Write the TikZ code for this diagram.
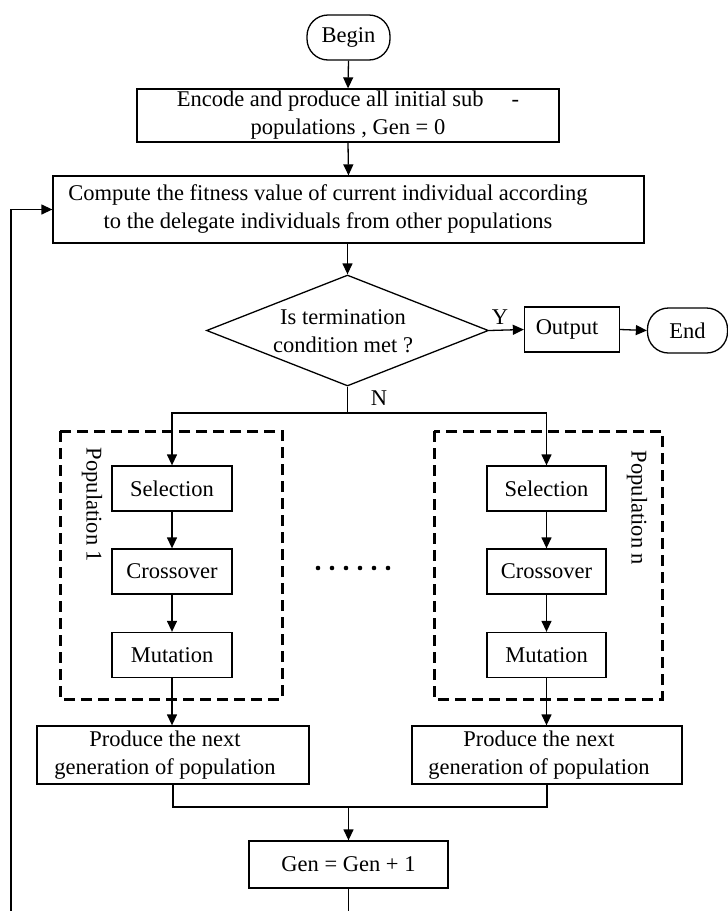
\documentclass[tikz,border=0pt]{standalone}
\usepackage{fontspec}
\setmainfont{Liberation Serif}
\usetikzlibrary{arrows.meta,shapes.geometric}
\begin{document}
\begin{tikzpicture}[x=1pt,y=-1pt,
  font=\fontsize{22.5}{28}\selectfont,
  line width=1.3pt,
  box/.style={draw, rectangle, inner sep=0pt, align=center},
  term/.style={draw, rectangle, rounded corners=21pt, inner sep=0pt, align=center},
  decision/.style={draw, diamond, inner sep=0pt},
  txt/.style={inner sep=0pt, align=center},
  dashbox/.style={draw, line width=3pt, dash pattern=on 11pt off 6pt},
  arr/.style={-{Triangle[length=11pt,width=10pt]}}]
\useasboundingbox (0,0) rectangle (728,911);
% nodes
\node[term, minimum width=83pt, minimum height=45pt] (begin) at (348.5,37.5) {Begin};
\node[box, minimum width=422pt, minimum height=53pt] (enc) at (348,115.5) {Encode and produce all initial sub\hspace{28pt}-\\populations , Gen = 0};
\node[box, minimum width=591pt, minimum height=67pt] (comp) at (348.5,209.5) {};
\node[txt] (comptext) at (328,209.5) {Compute the fitness value of current individual according\\to the delegate individuals from other populations};
\node[decision, minimum width=282pt, minimum height=111pt] (dec) at (347.5,330.5) {};
\node[txt] (dectext) at (343,331) {Is termination\\condition met ?};
\node[box, minimum width=95pt, minimum height=45pt] (out) at (572,329.5) {};
\node[txt] (outtext) at (567,329.5) {Output};
\node[term, minimum width=80pt, minimum height=45pt] (end) at (687.5,330.5) {End};
\node[txt] (ylab) at (500,317) {Y};
\node[txt] (nlab) at (379,398) {N};
% dashed population boxes
\draw[dashbox] (60,431) rectangle (282,699);
\draw[dashbox] (434,431) rectangle (662,699);
\node[txt, rotate=-90] (pop1) at (92,505) {Population 1};
\node[txt, rotate=-90] (popn) at (637,508) {Population n};
% left population
\node[box, minimum width=120pt, minimum height=45pt] (selL) at (172,488.5) {Selection};
\node[box, minimum width=120pt, minimum height=45pt] (croL) at (172,571.5) {Crossover};
\node[box, minimum width=120pt, minimum height=45pt] (mutL) at (172,655) {Mutation};
% right population
\node[box, minimum width=119pt, minimum height=45pt] (selR) at (546.5,488.5) {Selection};
\node[box, minimum width=119pt, minimum height=45pt] (croR) at (546.5,571.5) {Crossover};
\node[box, minimum width=119pt, minimum height=45pt] (mutR) at (546.5,655) {Mutation};
% dots
\foreach \i in {0,...,5} \fill (318+14*\i,568) circle (2.3pt);
% produce boxes
\node[box, minimum width=272pt, minimum height=58pt] (prodL) at (173,755) {};
\node[txt] (prodLtext) at (165,755) {Produce the next\\generation of population};
\node[box, minimum width=270pt, minimum height=58pt] (prodR) at (547,755) {};
\node[txt] (prodRtext) at (539,755) {Produce the next\\generation of population};
\node[box, minimum width=199pt, minimum height=47pt] (gen) at (348.5,864.5) {Gen = Gen + 1};
% helper coordinates
\coordinate (split) at (347.5,413);
\coordinate (merge) at (348.5,807);
\coordinate (bottomG) at (348.5,911);
\coordinate (bottomL) at (11,911);
\coordinate (fbtop) at (11,209.5);
% connectors
\draw[arr] (begin.south) -- (enc.north);
\draw[arr] (enc.south) -- (comp.north);
\draw[arr] (comp.south -| dec.north) -- (dec.north);
\draw[arr] (dec.east) -- (out.west);
\draw[arr] (out.east) -- (end.west);
\draw (dec.south) -- (split);
\draw[arr] (split) -| (selL.north);
\draw[arr] (split) -| (selR.north);
\draw[arr] (selL) -- (croL);
\draw[arr] (croL) -- (mutL);
\draw[arr] (selR) -- (croR);
\draw[arr] (croR) -- (mutR);
\draw[arr] (mutL.south) -- (mutL.south |- prodL.north);
\draw[arr] (mutR.south) -- (mutR.south |- prodR.north);
\draw (prodL.south) |- (merge) -| (prodR.south);
\draw[arr] (merge) -- (gen.north);
\draw (gen.south) -- (bottomG);
\draw[arr] (bottomL) -- (fbtop) -- (comp.west);
\end{tikzpicture}
\end{document}
